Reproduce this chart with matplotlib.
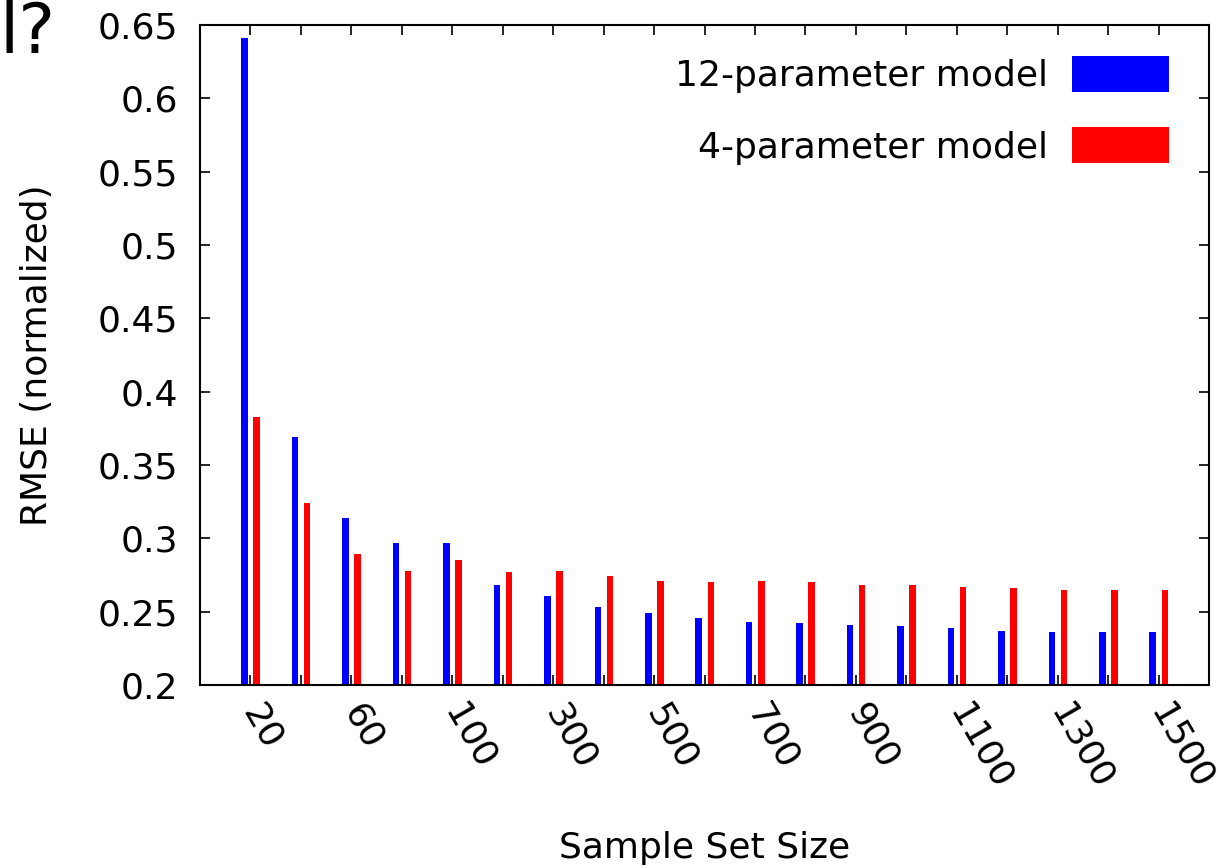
import numpy as np
import matplotlib
matplotlib.use("Agg")
import matplotlib.pyplot as plt

# sample set sizes (one group per size)
sizes = [20, 40, 60, 80, 100, 200, 300, 400, 500, 600, 700,
         800, 900, 1000, 1100, 1200, 1300, 1400, 1500]

# normalized RMSE
rmse_12 = [0.641, 0.369, 0.314, 0.297, 0.297, 0.268, 0.261, 0.253, 0.249, 0.246,
           0.243, 0.242, 0.241, 0.240, 0.239, 0.237, 0.236, 0.236, 0.236]
rmse_4 = [0.383, 0.324, 0.289, 0.278, 0.285, 0.277, 0.278, 0.274, 0.271, 0.270,
          0.271, 0.270, 0.268, 0.268, 0.267, 0.266, 0.265, 0.265, 0.265]

yticks = [0.2, 0.25, 0.3, 0.35, 0.4, 0.45, 0.5, 0.55, 0.6, 0.65]

plt.rcParams["font.family"] = "DejaVu Sans"
plt.rcParams["font.size"] = 26

W, H = 1218, 868
fig = plt.figure(figsize=(W / 100, H / 100), dpi=100)
ax = fig.add_axes([200 / W, (H - 685) / H, 1009 / W, 660 / H])

x = np.arange(len(sizes))
ax.bar(x - 0.115, rmse_12, width=0.13, color="#0000ff", label="12-parameter model")
ax.bar(x + 0.125, rmse_4, width=0.13, color="#ff0000", label="4-parameter model")

ax.set_xlim(-1, len(sizes))
ax.set_ylim(0.2, 0.65)

ax.set_yticks(yticks)
ax.set_yticklabels([f"{v:g}" for v in yticks])
ax.set_xticks(x)
ax.set_xticklabels([str(s) if i % 2 == 0 else "" for i, s in enumerate(sizes)])

ax.tick_params(direction="in", length=7.2, width=1.2, top=True, right=True)
ax.tick_params(axis="y", pad=16)
ax.tick_params(axis="x", pad=16)
for lab in ax.get_xticklabels():
    lab.set_rotation(-60)
    lab.set_ha("left")
    lab.set_va("center")
    lab.set_rotation_mode("anchor")

for sp in ax.spines.values():
    sp.set_linewidth(1.5)

ax.set_xlabel("Sample Set Size")
ax.xaxis.set_label_coords(0.5, -0.247)
ax.xaxis.label.set_va("center")
ax.set_ylabel("RMSE (normalized)")
ax.yaxis.set_label_coords(-0.1615, 0.5)
ax.yaxis.label.set_va("center")

ax.legend(loc="upper right", bbox_to_anchor=(0.9604, 0.953), frameon=False,
          markerfirst=False, handlelength=2.7, handleheight=1.15,
          handletextpad=0.64, labelspacing=0.95, borderpad=0, borderaxespad=0)

# leftover text from the cropped page
fig.text(0.0, (H - 53) / H, "l?", fontsize=50, va="baseline", ha="left")

fig.savefig("out.png", dpi=100)
